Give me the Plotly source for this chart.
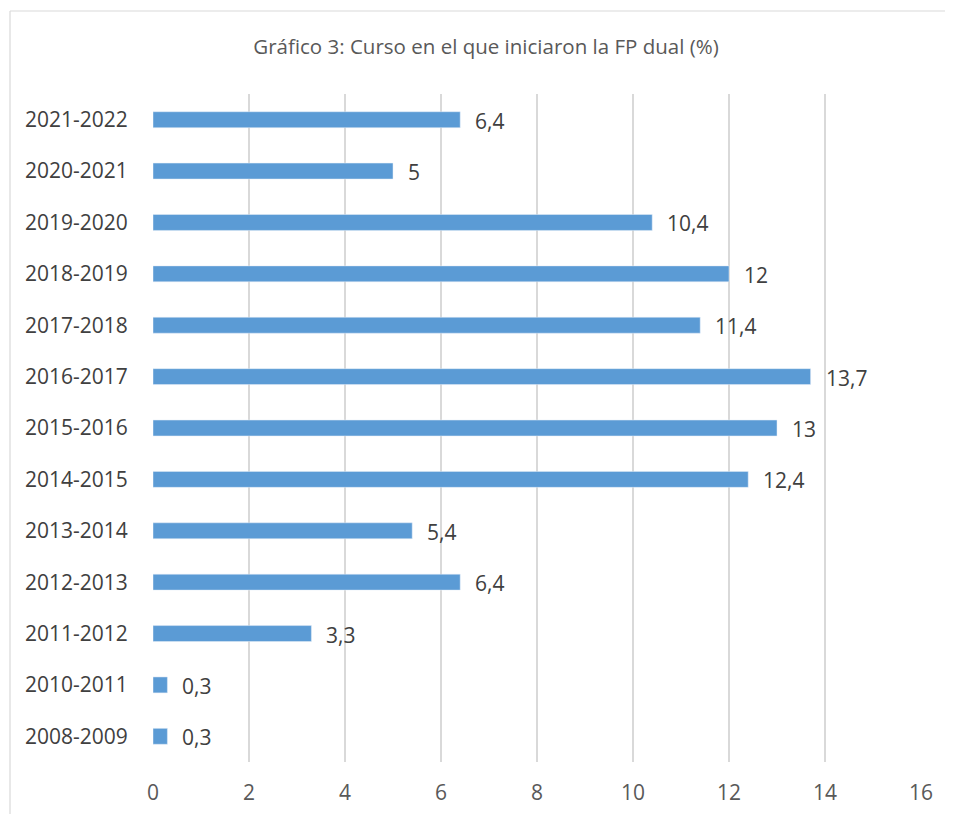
import plotly.graph_objects as go

categories = ["2008-2009", "2010-2011", "2011-2012", "2012-2013", "2013-2014",
              "2014-2015", "2015-2016", "2016-2017", "2017-2018", "2018-2019",
              "2019-2020", "2020-2021", "2021-2022"]
values = [0.3, 0.3, 3.3, 6.4, 5.4, 12.4, 13, 13.7, 11.4, 12, 10.4, 5, 6.4]
x_ticks = [0, 2, 4, 6, 8, 10, 12, 14, 16]
title_text = "Gráfico 3: Curso en el que iniciaron la FP dual (%)"

# page has an 8px body margin, so the figure is shifted by 8px
OFF = 8
W, H = 953 - OFF, 814 - OFF
ml, mt = 153 - OFF, 94 - OFF
mr = W - (921 - OFF)
mb = H - mt - 668
pw, ph = W - ml - mr, H - mt - mb

FONT = "Open Sans"
fig = go.Figure()
fig.add_trace(go.Bar(
    x=values, y=categories, orientation="h",
    marker=dict(color="#5B9BD5"), width=0.31,
    hoverinfo="x+y",
))

for c, v in zip(categories, values):
    fig.add_annotation(
        x=v, y=c, xref="x", yref="y",
        text=str(v).replace(".", ","), showarrow=False,
        xanchor="left", xshift=13, yshift=-1,
        font=dict(family=FONT, size=21, color="#404040"),
    )

left_x = (10 - OFF - ml) / pw
top_y = 1 + (mt - (11 - OFF)) / ph
fig.add_shape(type="line", xref="paper", yref="paper",
              x0=left_x, x1=left_x, y0=top_y, y1=-0.2,
              line=dict(color="#D9D9D9", width=1.2))
fig.add_shape(type="line", xref="paper", yref="paper",
              x0=left_x, x1=1.2, y0=top_y, y1=top_y,
              line=dict(color="#D9D9D9", width=1.2))

fig.update_layout(
    width=W, height=H,
    margin=dict(l=ml, r=mr, t=mt, b=mb, autoexpand=False),
    paper_bgcolor="white", plot_bgcolor="white",
    showlegend=False,
    title=dict(text=title_text, x=(486 - OFF) / W, xanchor="center",
               y=1 - (47 - OFF) / H, yanchor="middle",
               font=dict(family=FONT, size=20.5, color="#595959")),
    xaxis=dict(range=[0, 16], tickvals=x_ticks, showgrid=True,
               gridcolor="#D9D9D9", gridwidth=1.5, zeroline=False,
               showline=False, ticks="outside", ticklen=12,
               tickcolor="rgba(0,0,0,0)", automargin=False,
               tickfont=dict(family=FONT, size=21, color="#595959")),
    yaxis=dict(categoryorder="array", categoryarray=categories,
               showgrid=False, zeroline=False, showline=False,
               ticks="outside", ticklen=20, tickcolor="rgba(0,0,0,0)",
               automargin=False,
               range=[-0.5, len(categories) - 0.5],
               tickfont=dict(family=FONT, size=21, color="#404040")),
)

fig.write_html("out.html")
